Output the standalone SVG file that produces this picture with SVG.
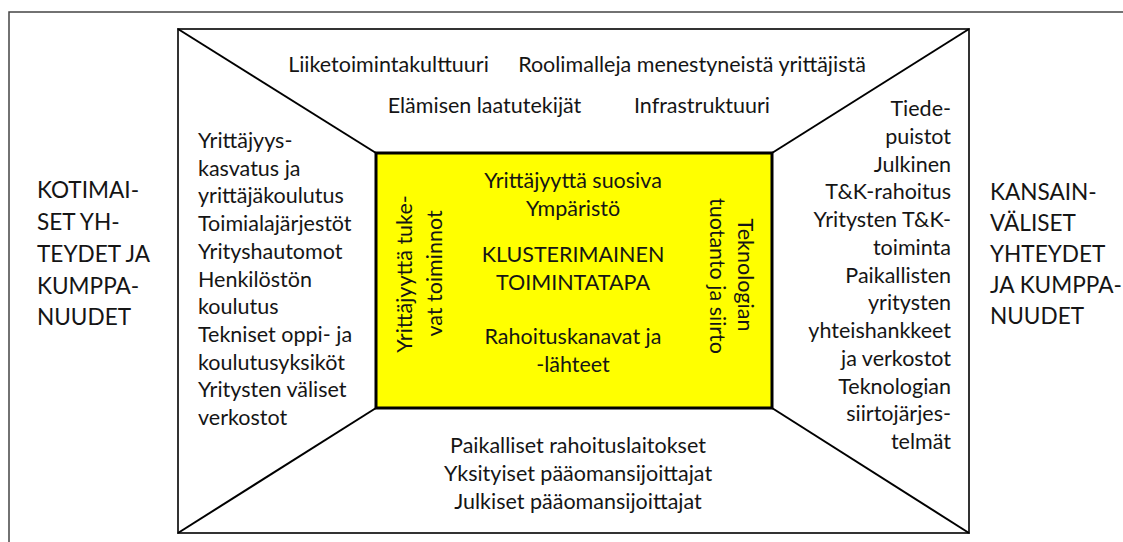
<svg xmlns="http://www.w3.org/2000/svg" width="1123" height="542" viewBox="0 0 1123 542">
  <style>
    .t { font-family: Lato, "Liberation Sans", sans-serif; font-size: 21.5px; fill: #151515; }
    .lbl { font-family: Lato, "Liberation Sans", sans-serif; font-size: 22.6px; fill: #151515; }
    .mid { text-anchor: middle; }
    .end { text-anchor: end; }
    .line { stroke: #000; stroke-width: 2; fill: none; }
  </style>
  <rect width="1123" height="542" fill="#fff"/>
  <g id="outer-frame">
    <path d="M9,542 V12 H1123" fill="none" stroke="#444" stroke-width="1.5"/>
  </g>
  <g id="inner-frame">
    <rect x="178" y="29" width="791" height="504" fill="#fff" stroke="#333" stroke-width="2"/>
  </g>
  <g id="connectors">
    <line class="line" x1="178" y1="29" x2="376" y2="153"/>
    <line class="line" x1="969" y1="29" x2="772" y2="153"/>
    <line class="line" x1="178" y1="533" x2="376" y2="408"/>
    <line class="line" x1="969" y1="533" x2="772" y2="408"/>
  </g>
  <g id="center-box">
    <rect x="376" y="153" width="396" height="255" fill="#ffff00" stroke="#000" stroke-width="3"/>
    <text class="t mid" x="573" y="188">Yrittäjyyttä suosiva</text>
    <text class="t mid" x="573" y="216">Ympäristö</text>
    <text class="t mid" x="573" y="262">KLUSTERIMAINEN</text>
    <text class="t mid" x="573" y="290">TOIMINTATAPA</text>
    <text class="t mid" x="573" y="344">Rahoituskanavat ja</text>
    <text class="t mid" x="573" y="372">-lähteet</text>
    <text class="t mid" transform="translate(412,274) rotate(-90)">Yrittäjyyttä tuke-</text>
    <text class="t mid" transform="translate(442,273.5) rotate(-90)">vat toiminnot</text>
    <text class="t mid" transform="translate(738,275) rotate(90)">Teknologian</text>
    <text class="t mid" transform="translate(710,276) rotate(90)">tuotanto ja siirto</text>
  </g>
  <g id="top-area">
    <text class="t mid" x="388.5" y="72">Liiketoimintakulttuuri</text>
    <text class="t mid" x="692" y="72">Roolimalleja menestyneistä yrittäjistä</text>
    <text class="t mid" x="484.5" y="113">Elämisen laatutekijät</text>
    <text class="t mid" x="702" y="113">Infrastruktuuri</text>
  </g>
  <g id="left-area">
    <text class="t" x="198" y="148">Yrittäjyys-</text>
    <text class="t" x="198" y="175.7">kasvatus ja</text>
    <text class="t" x="198" y="203.4">yrittäjäkoulutus</text>
    <text class="t" x="198" y="231.1">Toimialajärjestöt</text>
    <text class="t" x="198" y="258.8">Yrityshautomot</text>
    <text class="t" x="198" y="286.5">Henkilöstön</text>
    <text class="t" x="198" y="314.2">koulutus</text>
    <text class="t" x="198" y="341.9">Tekniset oppi- ja</text>
    <text class="t" x="198" y="369.6">koulutusyksiköt</text>
    <text class="t" x="198" y="397.3">Yritysten väliset</text>
    <text class="t" x="198" y="425">verkostot</text>
  </g>
  <g id="right-area">
    <text class="t end" x="951" y="116">Tiede-</text>
    <text class="t end" x="951" y="143.75">puistot</text>
    <text class="t end" x="951" y="171.5">Julkinen</text>
    <text class="t end" x="951" y="199.25">T&amp;K-rahoitus</text>
    <text class="t end" x="951" y="227">Yritysten T&amp;K-</text>
    <text class="t end" x="951" y="254.75">toiminta</text>
    <text class="t end" x="951" y="282.5">Paikallisten</text>
    <text class="t end" x="951" y="310.25">yritysten</text>
    <text class="t end" x="951" y="338">yhteishankkeet</text>
    <text class="t end" x="951" y="365.75">ja verkostot</text>
    <text class="t end" x="951" y="393.5">Teknologian</text>
    <text class="t end" x="951" y="421.25">siirtojärjes-</text>
    <text class="t end" x="951" y="449">telmät</text>
  </g>
  <g id="bottom-area">
    <text class="t mid" x="578" y="453">Paikalliset rahoituslaitokset</text>
    <text class="t mid" x="578" y="481">Yksityiset pääomansijoittajat</text>
    <text class="t mid" x="578" y="508.5">Julkiset pääomansijoittajat</text>
  </g>
  <g id="label-domestic">
    <text class="lbl" x="37" y="198">KOTIMAI-</text>
    <text class="lbl" x="37" y="230">SET YH-</text>
    <text class="lbl" x="37" y="261.5">TEYDET JA</text>
    <text class="lbl" x="37" y="293.5">KUMPPA-</text>
    <text class="lbl" x="37" y="325">NUUDET</text>
  </g>
  <g id="label-international">
    <text class="lbl" x="990" y="200">KANSAIN-</text>
    <text class="lbl" x="990" y="231">VÄLISET</text>
    <text class="lbl" x="990" y="262">YHTEYDET</text>
    <text class="lbl" x="990" y="293">JA KUMPPA-</text>
    <text class="lbl" x="990" y="324">NUUDET</text>
  </g>
</svg>
